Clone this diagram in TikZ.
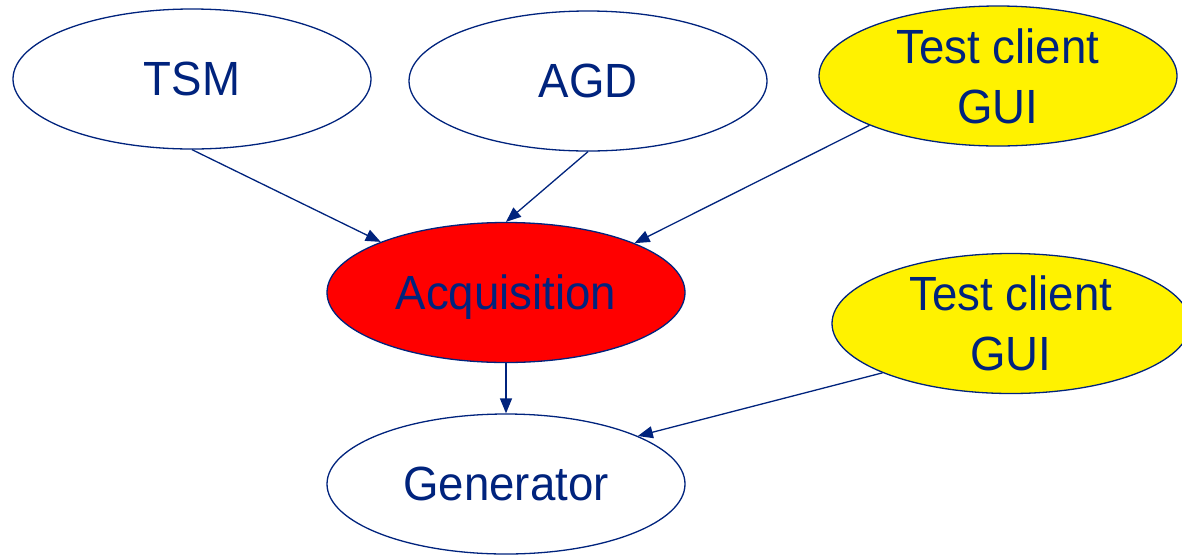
\documentclass[tikz,border=0pt]{standalone}
\usepackage{fontspec}
\setmainfont{Liberation Sans}[FakeStretch=0.95]
\usetikzlibrary{arrows.meta,shapes.geometric}
\definecolor{navy}{RGB}{0,35,125}
\begin{document}
\begin{tikzpicture}[x=1pt,y=-1pt,
  blob/.style={ellipse, draw=navy, line width=1.3pt, fill=white,
    minimum width=358pt, minimum height=140pt, inner sep=0pt,
    text=navy, align=center, font=\fontsize{48}{60}\selectfont},
  oneline/.style={text depth=0pt},
  hot/.style={fill=red},
  gui/.style={fill=yellow},
  link/.style={draw=navy, line width=1.3pt,
    -{Triangle[length=15pt,width=12pt]}}]
\useasboundingbox (0,0) rectangle (1182,555);
\clip (0,0) rectangle (1182,555);
% upper row
\node[blob,oneline] (tsm) at (192,79) {TSM};
\node[blob,oneline] (agd) at (588,81) {AGD};
\node[blob,gui] (gui1) at (998,76) {Test client\\GUI};
% middle
\node[blob,oneline,hot] (acq) at (506,292.5) {Acquisition};
\node[blob,gui] (gui2) at (1011,323.5) {Test client\\GUI};
% bottom
\node[blob,oneline] (gen) at (506,484) {Generator};
% connectors
\draw[link] (tsm.south) -- (acq.158.8);
\draw[link] (agd.south) -- (acq.north);
\draw[link] (gui1.201.6) -- (acq.21.4);
\draw[link] (acq.south) -- (gen.north);
\draw[link] (gui2.201) -- (gen.20.3);
\end{tikzpicture}
\end{document}
